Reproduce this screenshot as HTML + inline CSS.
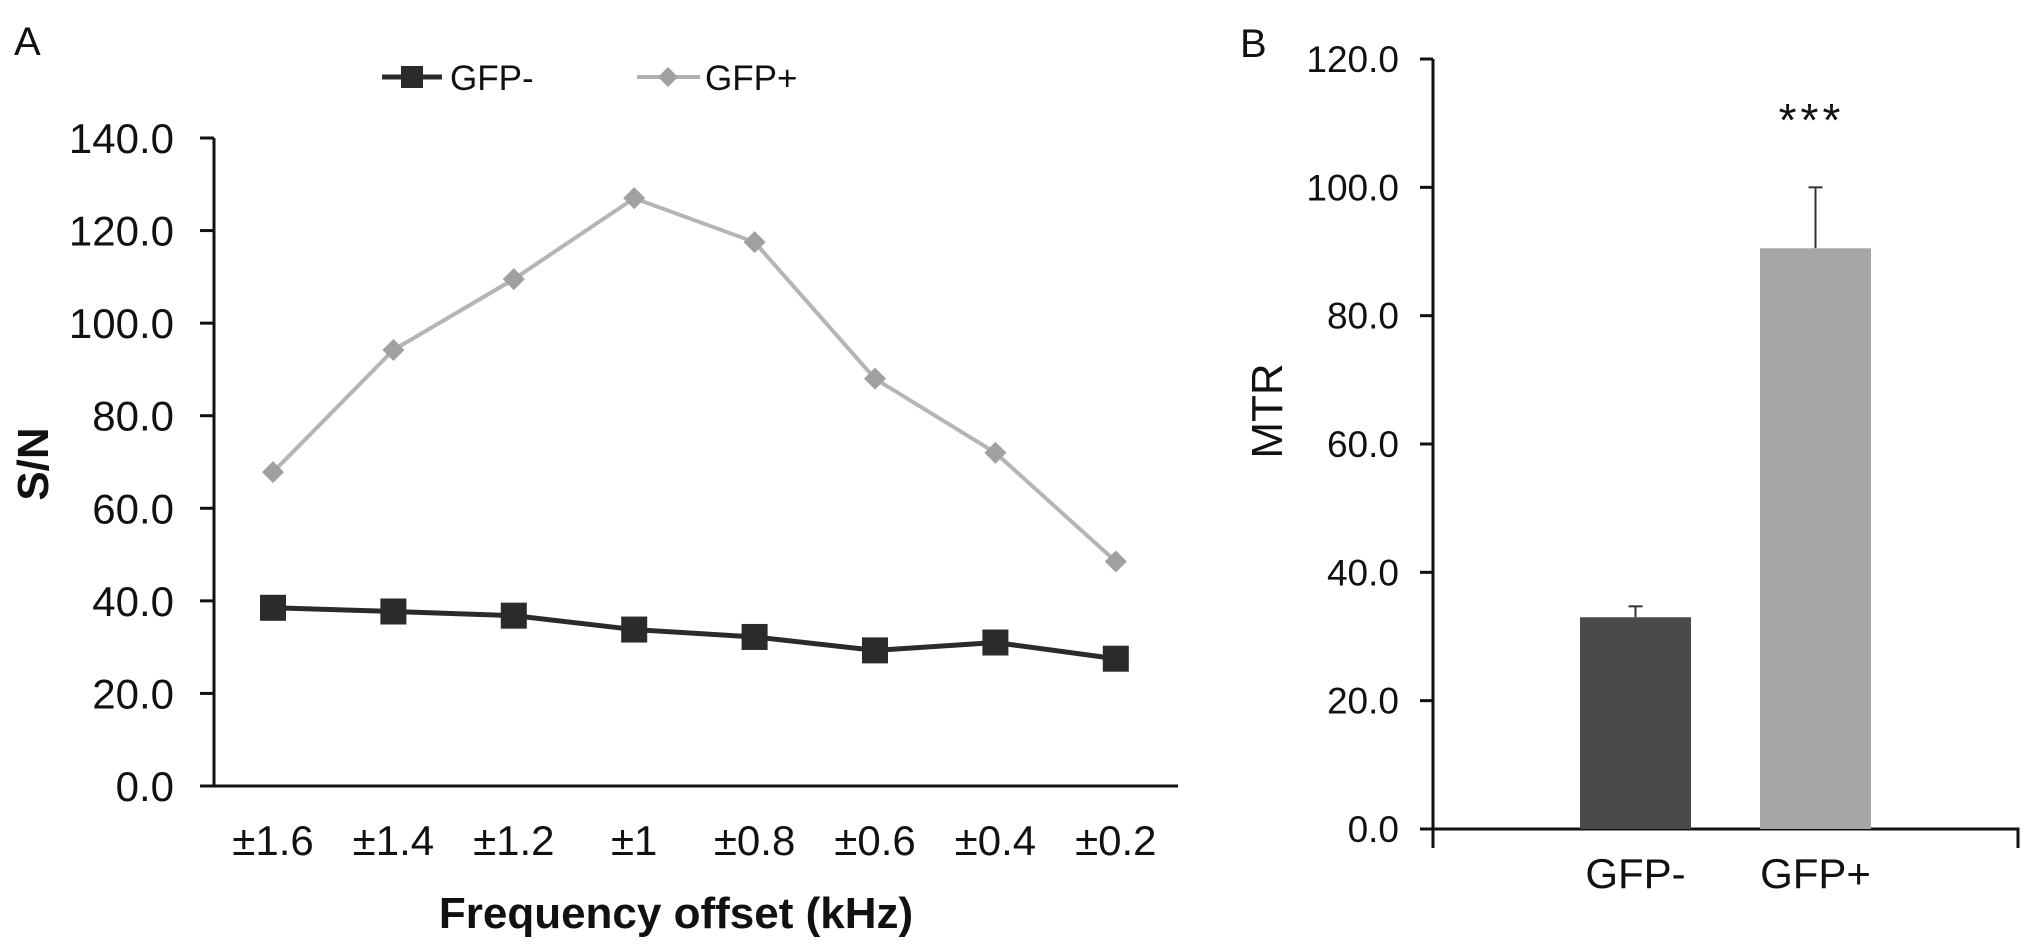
<!DOCTYPE html>
<html><head><meta charset="utf-8"><style>
html,body{margin:0;padding:0;background:#fff;}
svg{display:block;font-family:"Liberation Sans",Arial,sans-serif;}
</style></head><body>
<svg id="chart" width="2031" height="950" viewBox="0 0 2031 950">
<text x="14" y="55" font-size="40" fill="#111">A</text>
<text x="1240" y="57" font-size="40" fill="#111">B</text>
<g id="legend">
 <g>
  <line x1="382" y1="77" x2="442" y2="77" stroke="#2b2b2b" stroke-width="5"/>
  <rect x="401" y="66" width="22" height="22" fill="#2b2b2b"/>
  <text x="450" y="90" font-size="35" fill="#111">GFP-</text>
 </g>
 <g>
  <line x1="637" y1="77" x2="700" y2="77" stroke="#b0b0b0" stroke-width="4"/>
  <polygon points="668,67 678,77 668,87 658,77" fill="#a0a0a0"/>
  <text x="705" y="90" font-size="35" fill="#111">GFP+</text>
 </g>
</g>
<g id="panelA"></g>
<g id="panelB"></g>
</svg>
<script>
const categoriesA = ["±1.6","±1.4","±1.2","±1","±0.8","±0.6","±0.4","±0.2"];
const gfpMinusA = [38.5,37.7,36.8,33.8,32.2,29.3,31.0,27.5];
const gfpPlusA = [67.8,94.2,109.5,127.0,117.5,88.0,72.0,48.5];
const ticksA = [0,20,40,60,80,100,120,140];
const categoriesB = ["GFP-","GFP+"];
const valuesB = [33.0,90.5];
const errorsB = [1.7,9.5];
const ticksB = [0,20,40,60,80,100,120];

const NS="http://www.w3.org/2000/svg";
function mk(parent,tag,attrs,text){const e=document.createElementNS(NS,tag);for(const k in attrs)e.setAttribute(k,attrs[k]);if(text!==undefined)e.textContent=text;parent.appendChild(e);return e;}

// Panel A
const A=document.getElementById('panelA');
const yA=v=>786-(v/140)*(786-138);
const xA=i=>273+i*120.4;
let e;
e=mk(A,'line',{x1:214,y1:138,x2:214,y2:786,stroke:'#111','stroke-width':3});


e=mk(A,'line',{x1:214,y1:786,x2:1178,y2:786,stroke:'#111','stroke-width':3});


ticksA.forEach(t=>{
 mk(A,'line',{x1:200,y1:yA(t),x2:214,y2:yA(t),stroke:'#111','stroke-width':3});
 e=mk(A,'text',{x:174,y:yA(t)+15,'font-size':42,'text-anchor':'end',fill:'#111'},t.toFixed(1));
 
 
});
categoriesA.forEach((c,i)=>{
 e=mk(A,'text',{x:xA(i),y:855,'font-size':42,'text-anchor':'middle',fill:'#111'},c);
 
 
});
e=mk(A,'text',{x:676,y:928,'font-size':44,'font-weight':'bold','text-anchor':'middle',fill:'#111','xml:space':'preserve'},'Frequency  offset (kHz)');


e=mk(A,'text',{x:0,y:0,'font-size':44,'font-weight':'bold','text-anchor':'middle',fill:'#111',transform:'translate(48,464) rotate(-90)'},'S/N');


e=mk(A,'polyline',{points:gfpPlusA.map((v,i)=>xA(i)+','+yA(v)).join(' '),fill:'none',stroke:'#b5b5b5','stroke-width':4});


gfpPlusA.forEach((v,i)=>{const x=xA(i),y=yA(v);
 e=mk(A,'polygon',{points:`${x},${y-11} ${x+11},${y} ${x},${y+11} ${x-11},${y}`,fill:'#a0a0a0'});
 
 
});
e=mk(A,'polyline',{points:gfpMinusA.map((v,i)=>xA(i)+','+yA(v)).join(' '),fill:'none',stroke:'#2b2b2b','stroke-width':5});


gfpMinusA.forEach((v,i)=>{const x=xA(i),y=yA(v);
 e=mk(A,'rect',{x:x-13,y:y-13,width:26,height:26,fill:'#2b2b2b'});
 
 
});

// Panel B
const B=document.getElementById('panelB');
const yB=v=>829-(v/120)*(829-59);
const barX=[1580,1760], barW=111;
e=mk(B,'line',{x1:1433,y1:59,x2:1433,y2:848,stroke:'#111','stroke-width':3});


e=mk(B,'polyline',{points:'1420,829 2018,829 2018,848',fill:'none',stroke:'#111','stroke-width':3});


ticksB.forEach(t=>{
 mk(B,'line',{x1:1420,y1:yB(t),x2:1433,y2:yB(t),stroke:'#111','stroke-width':3});
 e=mk(B,'text',{x:1399,y:yB(t)+13,'font-size':37,'text-anchor':'end',fill:'#111'},t.toFixed(1));
 
 
});
e=mk(B,'text',{x:0,y:0,'font-size':44,'text-anchor':'middle',fill:'#111',transform:'translate(1282,411) rotate(-90)'},'MTR');


const colorsB=['#4a4a4a','#a6a6a6'];
valuesB.forEach((v,i)=>{
 const cx=barX[i]+barW/2;
 e=mk(B,'line',{x1:cx,y1:yB(v),x2:cx,y2:yB(v+errorsB[i]),stroke:'#333','stroke-width':2});
 
 
 mk(B,'line',{x1:cx-7,y1:yB(v+errorsB[i]),x2:cx+7,y2:yB(v+errorsB[i]),stroke:'#333','stroke-width':2});
 e=mk(B,'rect',{x:barX[i],y:yB(v),width:barW,height:829-yB(v),fill:colorsB[i]});
 
 
 e=mk(B,'text',{x:cx,y:888,'font-size':42,'text-anchor':'middle',fill:'#111'},categoriesB[i]);
 
 
});
e=mk(B,'text',{x:barX[1]+barW/2-4,y:136,'font-size':46,'text-anchor':'middle',fill:'#111','letter-spacing':'4'},'***');


</script>
</body></html>
